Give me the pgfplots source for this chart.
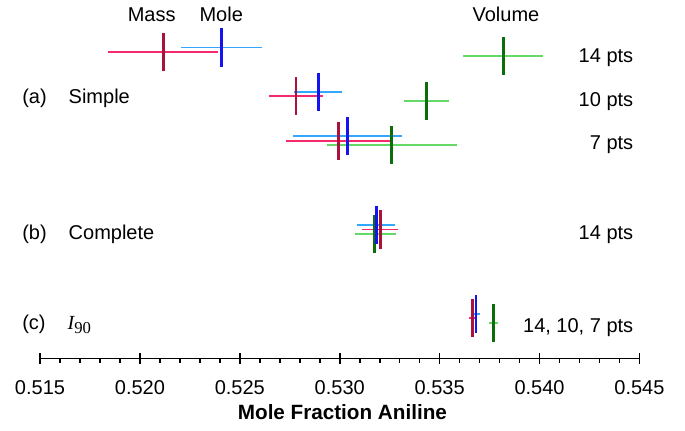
\documentclass[border=0pt]{standalone}
\usepackage{fontspec}
\setmainfont{Liberation Sans}
\newfontfamily\seriffont{Liberation Serif}
\usepackage{pgfplots}
\pgfplotsset{compat=1.18}
\usepackage{pgfplotstable}

\definecolor{massH}{HTML}{F5296E}
\definecolor{massV}{HTML}{A8123C}
\definecolor{moleH}{HTML}{33A6FF}
\definecolor{moleV}{HTML}{1414F0}
\definecolor{volH}{HTML}{66D866}
\definecolor{volV}{HTML}{0B6E0B}

\newcommand\lbl{\fontsize{15}{18}\selectfont}

% y = row position (7,6,5: simple 14/10/7 pts; 3: complete; 1: I90)
% x = estimate, lo/hi = interval ends
\pgfplotstableread{
y   x       lo      hi
7   0.52116 0.51840 0.52391
6   0.52781 0.52648 0.52915
5   0.52993 0.52731 0.53252
3   0.53203 0.53110 0.53293
1   0.53666 0.53647 0.53677
}\massdata
\pgfplotstableread{
y   x       lo      hi
7.1 0.52406 0.52204 0.52610
6.1 0.52893 0.52773 0.53013
5.1 0.53038 0.52768 0.53310
3.1 0.53183 0.53088 0.53277
1.1 0.53682 0.53669 0.53702
}\moledata
\pgfplotstableread{
y   x       lo      hi
6.9 0.53819 0.53616 0.54019
5.9 0.53435 0.53323 0.53547
4.9 0.53257 0.52935 0.53587
2.9 0.53175 0.53077 0.53280
0.9 0.53769 0.53747 0.53794
}\voldata

\pgfplotsset{
  hbar/.style={draw=none, mark=none, forget plot,
    error bars/.cd, x dir=both, x explicit, error mark=none,
    error bar style={draw=#1, line width=1.4pt}},
  vbar/.style={draw=none, mark=none, forget plot,
    error bars/.cd, y dir=both, y fixed=0.43, error mark=none,
    error bar style={draw=#1, line width=2.2pt}},
}

\begin{document}
\begin{tikzpicture}
\begin{axis}[
  at={(0,0)}, anchor=south west,
  width=449.6pt, height=268.7pt, scale only axis,
  xmin=0.515, xmax=0.545, ymin=0.1, ymax=8.17,
  axis x line=bottom, axis y line=none,
  x axis line style={-, line width=1pt},
  % small ticks every 0.001
  xtick={0.515,0.516,0.517,0.518,0.519,0.520,0.521,0.522,0.523,0.524,
         0.525,0.526,0.527,0.528,0.529,0.530,0.531,0.532,0.533,0.534,
         0.535,0.536,0.537,0.538,0.539,0.540,0.541,0.542,0.543,0.544,0.545},
  xticklabels={},
  ytick=\empty,
  tick align=outside,
  major tick length=3.5pt,
  every tick/.style={black, line width=1.2pt},
  % labelled ticks every 0.005, crossing the axis line
  extra x ticks={0.515,0.520,0.525,0.530,0.535,0.540,0.545},
  extra x tick labels={0.515,0.520,0.525,0.530,0.535,0.540,0.545},
  extra x tick style={tick align=center, major tick length=8pt},
  xticklabel style={font=\lbl, anchor=base, yshift=-23.5pt},
  xlabel={\textbf{Mole Fraction Aniline}},
  xlabel style={font=\fontsize{15.5}{18}\selectfont, at={(axis description cs:0.5,0)},
    anchor=base, yshift=-45.75pt, xshift=2pt},
  clip=false,
]
% interval lines
\addplot[hbar=moleH] table[x=x, y=y,
  x error plus expr=\thisrow{hi}-\thisrow{x},
  x error minus expr=\thisrow{x}-\thisrow{lo}] {\moledata};
\addplot[hbar=massH] table[x=x, y=y,
  x error plus expr=\thisrow{hi}-\thisrow{x},
  x error minus expr=\thisrow{x}-\thisrow{lo}] {\massdata};
\addplot[hbar=volH] table[x=x, y=y,
  x error plus expr=\thisrow{hi}-\thisrow{x},
  x error minus expr=\thisrow{x}-\thisrow{lo}] {\voldata};
% estimate markers
\addplot[vbar=volV]  table[x=x, y=y] {\voldata};
\addplot[vbar=massV] table[x=x, y=y] {\massdata};
\addplot[vbar=moleV] table[x=x, y=y] {\moledata};

% column headings
\node[anchor=base, inner sep=0, font=\lbl] at (axis cs:0.52059,7.68) {Mass};
\node[anchor=base, inner sep=0, font=\lbl] at (axis cs:0.52407,7.68) {Mole};
\node[anchor=base, inner sep=0, font=\lbl] at (axis cs:0.53832,7.68) {Volume};

% point counts
\node[anchor=base east, inner sep=0, font=\lbl] at (axis cs:0.54470,6.757) {14 pts};
\node[anchor=base east, inner sep=0, font=\lbl] at (axis cs:0.54470,5.766) {10 pts};
\node[anchor=base east, inner sep=0, font=\lbl] at (axis cs:0.54470,4.806) {7 pts};
\node[anchor=base east, inner sep=0, font=\lbl] at (axis cs:0.54470,2.775) {14 pts};
\node[anchor=base east, inner sep=0, font=\lbl] at (axis cs:0.54470,0.676) {14, 10, 7 pts};

% method labels
\node[anchor=base west, inner sep=0, font=\lbl] at (axis cs:0.51410,5.842) {(a)\hspace{16.5pt}Simple};
\node[anchor=base west, inner sep=0, font=\lbl] at (axis cs:0.51410,2.775) {(b)\hspace{16.5pt}Complete};
\node[anchor=base west, inner sep=0, font=\lbl] at (axis cs:0.51410,0.752)
  {(c)\hspace{16.5pt}{\seriffont\itshape I}\raisebox{-0.22em}{\seriffont\fontsize{12.5}{14}\selectfont 90}};
\end{axis}
\path (-30pt,-54.5pt) rectangle (483.75pt,268.7pt);
\end{tikzpicture}
\end{document}
